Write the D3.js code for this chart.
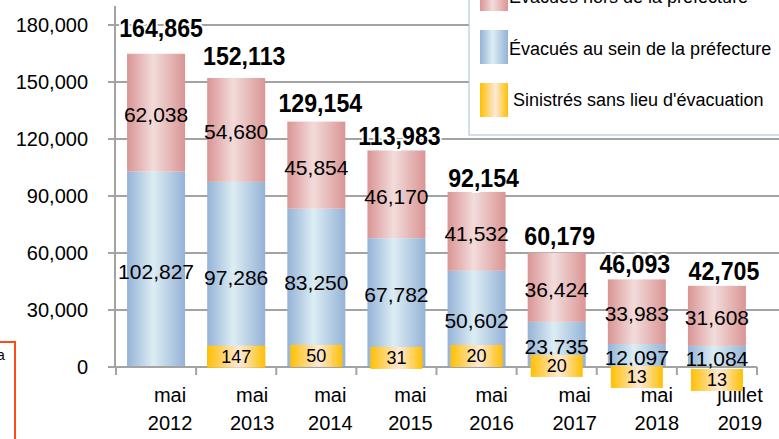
<!DOCTYPE html>
<html><head><meta charset="utf-8">
<script src="https://cdn.jsdelivr.net/npm/d3@7"></script>
<style>html,body{margin:0;padding:0;background:#fff;overflow:hidden}svg{display:block}</style>
</head><body>
<svg id="c" width="779" height="439"></svg>
<script>
// ---- data ----
const months = ["mai","mai","mai","mai","mai","mai","mai","juillet"];
const years = ["2012","2013","2014","2015","2016","2017","2018","2019"];
const sansLieu = [null,147,50,31,20,20,13,13];          // Sinistrés sans lieu d'évacuation
const auSein = [102827,97286,83250,67782,50602,23735,12097,11084]; // Évacués au sein de la préfecture
const hors = [62038,54680,45854,46170,41532,36424,33983,31608];    // Évacués hors de la préfecture
const totals = [164865,152113,129154,113983,92154,60179,46093,42705];
const yTicks = [0,30000,60000,90000,120000,150000,180000];
const legendLabels = ["Évacués hors de la préfecture","Évacués au sein de la préfecture","Sinistrés sans lieu d'évacuation"];

// ---- layout tweaks (not data) ----
const totalDx = [5,8,4,3,7,3,-2,7];
const totalGap = [17,13,10,5,5,8,6,6];
const yellowShift = [0,0,-1,1,-1,9,20,23];
const xLabelDx = [14,16,14,14,15,18,20,23];
const blueLabelNudge = [0,1,-7,-10,0,0,0,0];

const svg = d3.select("#c");
const FONT = "'Liberation Sans', Arial, sans-serif";
const cats = years;
const x = d3.scaleBand().domain(cats).range([116,757]).paddingInner(0.276).paddingOuter(0.138);
const y = d3.scaleLinear().domain([0,180000]).range([367,25]);

// gradients
const defs = svg.append("defs");
function grad(id, edge, mid, midOff){
  const g = defs.append("linearGradient").attr("id",id).attr("x1","0").attr("x2","1").attr("y1","0").attr("y2","0");
  g.append("stop").attr("offset","0%").attr("stop-color",edge);
  g.append("stop").attr("offset",midOff||"45%").attr("stop-color",mid);
  g.append("stop").attr("offset","100%").attr("stop-color",edge);
}
grad("gRed","#d99594","#f2dcdb","45%");
grad("gBlue","#95b3d7","#dcedf3","45%");
grad("gYel","#ffc000","#fde9d9","55%");

// gridlines
svg.append("g").selectAll("line").data(yTicks.filter(d=>d>0)).join("line")
  .attr("x1",115).attr("x2",779).attr("y1",d=>y(d)).attr("y2",d=>y(d))
  .attr("stroke","#a3a3a3").attr("stroke-width",2);

// bars
const bw = x.bandwidth();
const gBars = svg.append("g");
cats.forEach((c,i)=>{
  const base = sansLieu[i]||0;
  gBars.append("rect").attr("x",x(c)).attr("width",bw)
    .attr("y",y(base+auSein[i])).attr("height",y(base)-y(base+auSein[i]))
    .attr("fill","url(#gBlue)");
  gBars.append("rect").attr("x",x(c)).attr("width",bw)
    .attr("y",y(base+auSein[i]+hors[i])).attr("height",y(base+auSein[i])-y(base+auSein[i]+hors[i]))
    .attr("fill","url(#gRed)");
});

// axes
svg.append("line").attr("x1",115).attr("x2",115).attr("y1",6).attr("y2",y(0)+1).attr("stroke","#a3a3a3").attr("stroke-width",2);
svg.append("g").selectAll("line").data(yTicks).join("line")
  .attr("x1",108).attr("x2",115).attr("y1",d=>y(d)).attr("y2",d=>y(d)).attr("stroke","#a3a3a3").attr("stroke-width",2);
svg.append("g").selectAll("text").data(yTicks).join("text")
  .attr("x",88).attr("y",d=>y(d)).attr("dy","0.36em").attr("text-anchor","end")
  .attr("font-family",FONT).attr("font-size",20).attr("fill","#000")
  .text(d=>d3.format(",")(d));
svg.append("line").attr("x1",115).attr("x2",757).attr("y1",y(0)).attr("y2",y(0)).attr("stroke","#a3a3a3").attr("stroke-width",2);
const step = x.step();
svg.append("g").selectAll("line").data(d3.range(cats.length+1)).join("line")
  .attr("x1",d=>116+d*step).attr("x2",d=>116+d*step).attr("y1",y(0)).attr("y2",y(0)+8)
  .attr("stroke","#a3a3a3").attr("stroke-width",2);

// x labels
const xl = svg.append("g").selectAll("text").data(cats).join("text")
  .attr("font-family",FONT).attr("font-size",20).attr("text-anchor","middle").attr("fill","#000");
xl.append("tspan").attr("x",(d,i)=>x(d)+bw/2+xLabelDx[i]).attr("y",402).text((d,i)=>months[i]);
xl.append("tspan").attr("x",(d,i)=>x(d)+bw/2+xLabelDx[i]).attr("y",430).text((d,i)=>years[i]);

// segment labels
cats.forEach((c,i)=>{
  const base = sansLieu[i]||0;
  const cx = x(c)+bw/2;
  svg.append("text").attr("x",cx).attr("y",(y(base)+y(base+auSein[i]))/2+blueLabelNudge[i]).attr("dy","0.45em")
    .attr("text-anchor","middle").attr("font-family",FONT).attr("font-size",21).attr("fill","#000")
    .text(d3.format(",")(auSein[i]));
  svg.append("text").attr("x",cx).attr("y",(y(base+auSein[i])+y(base+auSein[i]+hors[i]))/2).attr("dy","0.45em")
    .attr("text-anchor","middle").attr("font-family",FONT).attr("font-size",21).attr("fill","#000")
    .text(d3.format(",")(hors[i]));
});

// yellow boxes (Sinistrés sans lieu d'évacuation)
cats.forEach((c,i)=>{
  if(sansLieu[i]==null) return;
  const inset = i===1?0:3;
  const top = y(sansLieu[i]) - 21 + yellowShift[i];
  svg.append("rect").attr("x",x(c)+inset).attr("width",bw-2*inset).attr("y",top).attr("height",22)
    .attr("fill","url(#gYel)");
  svg.append("text").attr("x",x(c)+bw/2).attr("y",top+11).attr("dy","0.36em")
    .attr("text-anchor","middle").attr("font-family",FONT).attr("font-size",18).attr("fill","#000")
    .text(d3.format(",")(sansLieu[i]));
});

// totals
svg.append("g").selectAll("text").data(cats).join("text")
  .attr("transform",(d,i)=>`translate(${x(d)+bw/2+totalDx[i]},${y(totals[i])-totalGap[i]}) scale(0.89,1)`)
  .attr("text-anchor","middle").attr("font-family",FONT).attr("font-weight","bold").attr("font-size",26)
  .attr("fill","#000").attr("stroke","#fff").attr("stroke-width",4).attr("paint-order","stroke")
  .text((d,i)=>d3.format(",")(totals[i]));

// legend
const lg = svg.append("g");
lg.append("rect").attr("x",469).attr("y",-40).attr("width",330).attr("height",175)
  .attr("fill","#fff").attr("stroke","#a9bcd6").attr("stroke-width",1);
const sw = ["gRed","gBlue","gYel"];
const swY = [-23,30,83];
const txX = [509,509,513];
const txY = [3,55,106];
legendLabels.forEach((t,i)=>{
  lg.append("rect").attr("x",480).attr("y",swY[i]).attr("width",28).attr("height",34).attr("fill",`url(#${sw[i]})`);
  lg.append("text").attr("x",txX[i]).attr("y",txY[i]).attr("font-family",FONT).attr("font-size",18).attr("fill","#000").text(t);
});

// cropped neighbouring frame at left edge
svg.append("path").attr("d","M0,342H15V439").attr("fill","none").attr("stroke","#ff4a1c").attr("stroke-width",2);
svg.append("text").attr("x",-3).attr("y",360).attr("font-family",FONT).attr("font-size",14).attr("fill","#000").text("a");
</script>
</body></html>
